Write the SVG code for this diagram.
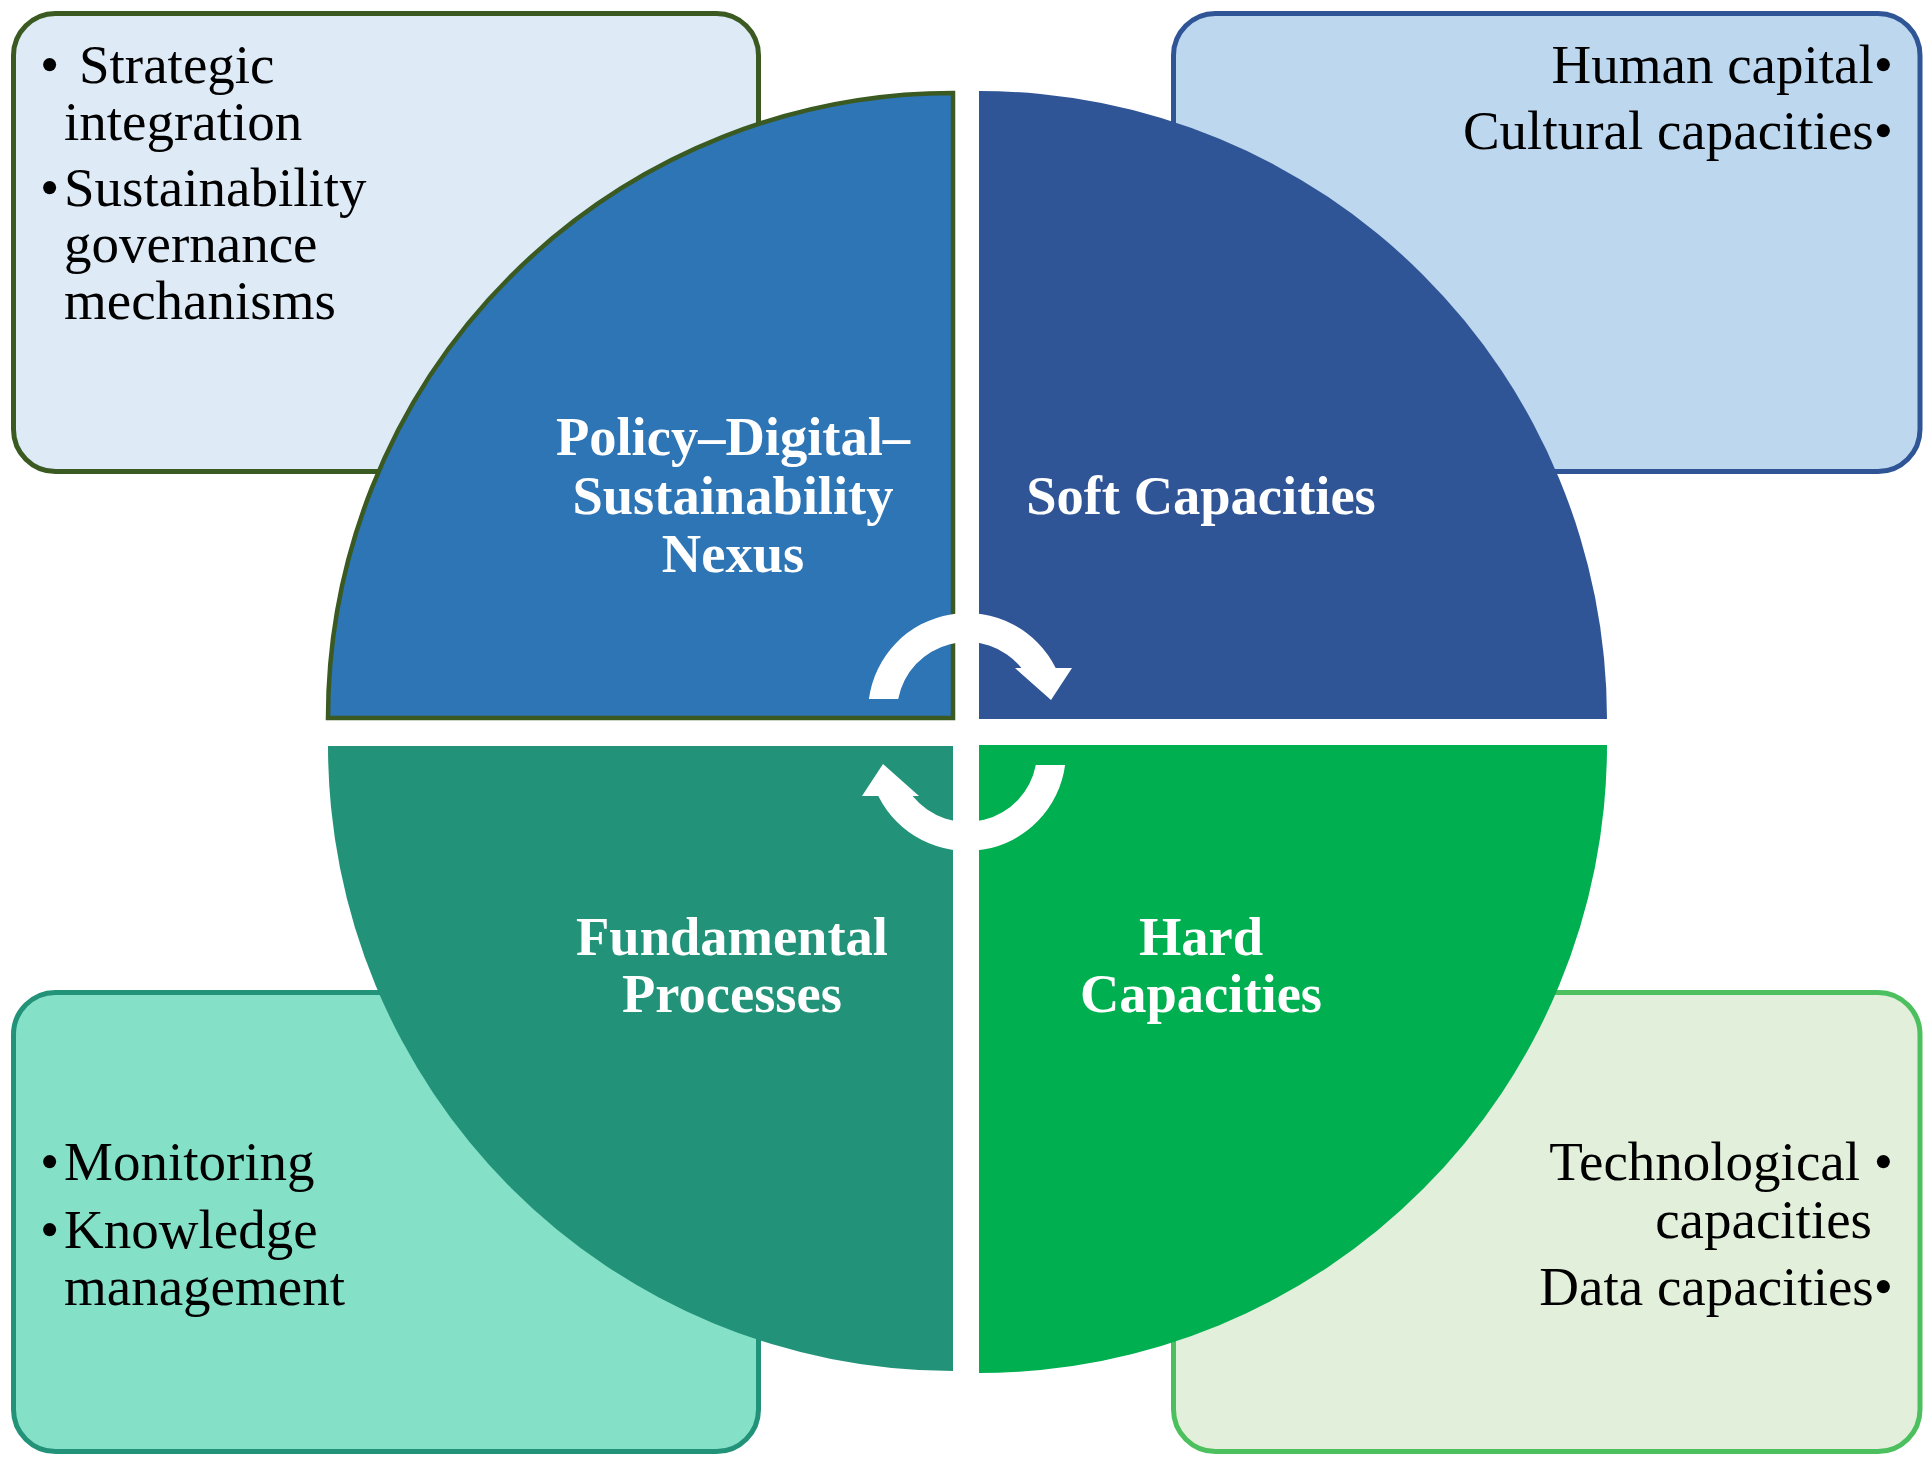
<svg xmlns="http://www.w3.org/2000/svg" width="1932" height="1465" viewBox="0 0 1932 1465">
<style>
.box{stroke-width:5}
.bt{font-family:"Liberation Serif","Times New Roman",serif;font-size:55px;fill:#000}
.lb{font-family:"Liberation Serif","Times New Roman",serif;font-size:54.5px;font-weight:bold;fill:#fff;text-anchor:middle}
.arr{fill:#fff}
</style>
<rect width="1932" height="1465" fill="#fff"/>
<g id="box-tl">
<rect class="box" x="13.5" y="13.5" width="745" height="458" rx="42" ry="42" fill="#DEEBF7" stroke="#3A5A22"/>
<text class="bt" x="40" y="83">• <tspan x="79">Strategic</tspan></text>
<text class="bt" x="64" y="140">integration</text>
<text class="bt" x="40" y="206">•<tspan x="64">Sustainability</tspan></text>
<text class="bt" x="64" y="262">governance</text>
<text class="bt" x="64" y="319">mechanisms</text>
</g>
<g id="box-tr">
<rect class="box" x="1173.5" y="13.5" width="746.5" height="458" rx="42" ry="42" fill="#BDD7EE" stroke="#2F5597"/>
<text class="bt" x="1893" y="83" text-anchor="end">Human capital•</text>
<text class="bt" x="1893" y="149" text-anchor="end">Cultural capacities•</text>
</g>
<g id="box-bl">
<rect class="box" x="13.5" y="992.5" width="745" height="459" rx="42" ry="42" fill="#85E0C8" stroke="#229379"/>
<text class="bt" x="40" y="1180">•<tspan x="64">Monitoring</tspan></text>
<text class="bt" x="40" y="1248">•<tspan x="64">Knowledge</tspan></text>
<text class="bt" x="64" y="1305">management</text>
</g>
<g id="box-br">
<rect class="box" x="1173.5" y="992.5" width="746.5" height="459" rx="42" ry="42" fill="#E2EFDA" stroke="#4CBF5E"/>
<text class="bt" x="1893" y="1180" text-anchor="end">Technological •</text>
<text class="bt" x="1872" y="1238" text-anchor="end">capacities</text>
<text class="bt" x="1893" y="1305" text-anchor="end">Data capacities•</text>
</g>
<g id="q-tl">
<path d="M953,718 L328,718 A625,625 0 0 1 953,93 Z" fill="#2E75B6" stroke="#3A5A22" stroke-width="4.5"/>
<text class="lb" x="733" y="455">Policy–Digital–</text>
<text class="lb" x="733" y="514">Sustainability</text>
<text class="lb" x="733" y="572">Nexus</text>
</g>
<g id="q-tr">
<path d="M979,719 L979,91 A628,628 0 0 1 1607,719 Z" fill="#2F5597"/>
<text class="lb" x="1201" y="514">Soft Capacities</text>
</g>
<g id="q-bl">
<path d="M953,746 L953,1371 A625,625 0 0 1 328,746 Z" fill="#229379"/>
<text class="lb" x="732" y="955">Fundamental</text>
<text class="lb" x="732" y="1012">Processes</text>
</g>
<g id="q-br">
<path d="M979,745 L1607,745 A628,628 0 0 1 979,1373 Z" fill="#00AF50"/>
<text class="lb" x="1201" y="955">Hard</text>
<text class="lb" x="1201" y="1012">Capacities</text>
</g>
<g id="connectors">
<path class="arr" transform="translate(967,712)" d="M-98.1,-13 A99,99 0 0 1 88.7,-44 L105,-44 L84,-12 L48,-44 L54.4,-44 A70,70 0 0 0 -68.8,-13 Z"/>
<path class="arr" transform="translate(967,752) rotate(180)" d="M-98.1,-13 A99,99 0 0 1 88.7,-44 L105,-44 L84,-12 L48,-44 L54.4,-44 A70,70 0 0 0 -68.8,-13 Z"/>
</g>
</svg>
